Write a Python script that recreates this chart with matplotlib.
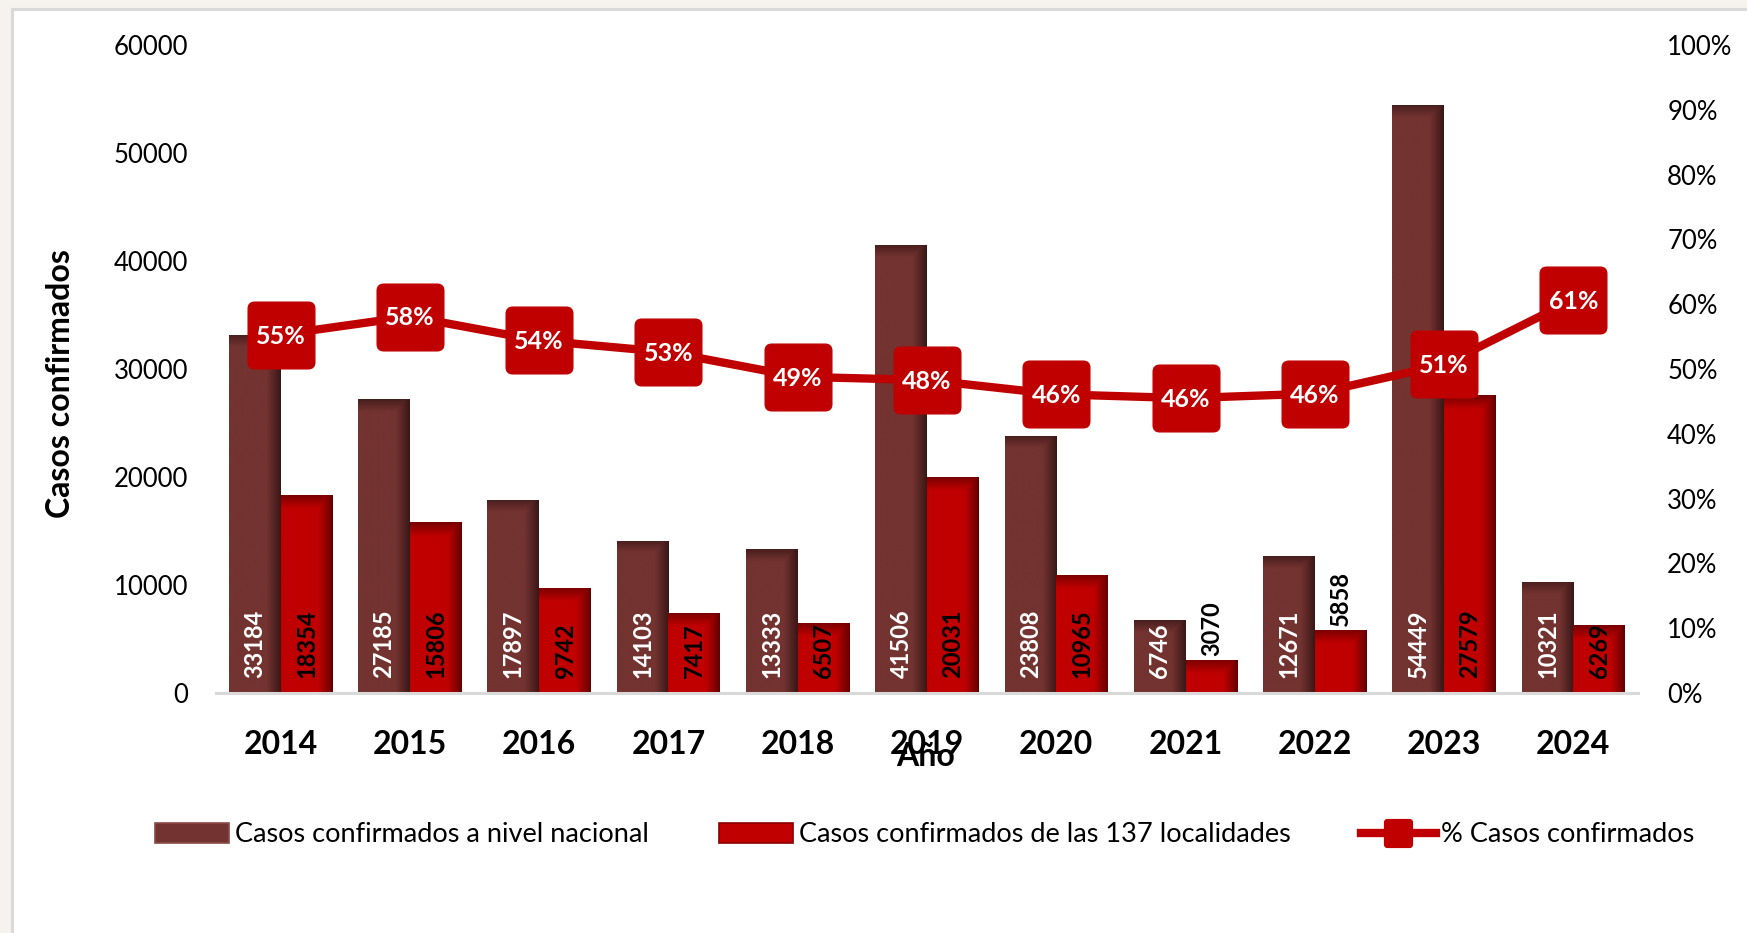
import numpy as np
import matplotlib
matplotlib.use("Agg")
import matplotlib.pyplot as plt
from matplotlib.patches import Rectangle, Patch, FancyBboxPatch
from matplotlib.lines import Line2D
from matplotlib.path import Path
from matplotlib.colors import to_rgb

# ---------------- data ----------------
years = ["2014", "2015", "2016", "2017", "2018", "2019", "2020", "2021", "2022", "2023", "2024"]
casos_nacional = [33184, 27185, 17897, 14103, 13333, 41506, 23808, 6746, 12671, 54449, 10321]
casos_137 = [18354, 15806, 9742, 7417, 6507, 20031, 10965, 3070, 5858, 27579, 6269]
pct_confirmados = [55.3, 58.1, 54.4, 52.6, 48.8, 48.3, 46.1, 45.5, 46.2, 50.7, 60.7]
pct_labels = ["55%", "58%", "54%", "53%", "49%", "48%", "46%", "46%", "46%", "51%", "61%"]
left_ticks = [0, 10000, 20000, 30000, 40000, 50000, 60000]
right_ticks = [0.0, 0.1, 0.2, 0.3, 0.4, 0.5, 0.6, 0.7, 0.8, 0.9, 1.0]
right_tick_labels = ["0%", "10%", "20%", "30%", "40%", "50%", "60%", "70%", "80%", "90%", "100%"]

plt.rcParams['font.family'] = ['Lato', 'DejaVu Sans']

W, H = 1747, 933
fig = plt.figure(figsize=(W / 100, H / 100), dpi=100)
fig.patch.set_facecolor("#F6F3EF")
frame = Rectangle((12 / W, -0.02), 1.0, 1 - 9 / H + 0.02, transform=fig.transFigure,
                  facecolor="white", edgecolor="#D9D9D9", linewidth=2.2, zorder=-10)
fig.patches.append(frame)

ax = fig.add_axes([216 / W, 1 - 693 / H, (1638 - 216) / W, (693 - 45) / H])
ax.set_facecolor("none")

x = np.arange(len(years))
w = 0.4
DARK = "#733330"
RED = "#C00000"
b1 = ax.bar(x - w / 2, casos_nacional, w, color=DARK, linewidth=0, zorder=2)
b2 = ax.bar(x + w / 2, casos_137, w, color=RED, linewidth=0, zorder=2)

ax.set_xlim(-0.5, len(years) - 0.5)
ax.set_ylim(0, 60000)
px_per_unit = (693 - 45) / 60000.0


def shade(bars, base, dark, top_px, top_strength):
    base = np.array(to_rgb(base))
    dark = np.array(to_rgb(dark))
    for b in bars:
        x0, y0 = b.get_x(), b.get_y()
        bw, bh = b.get_width(), b.get_height()
        hpx = max(bh * px_per_unit, 1)
        M, N = 60, 300
        t = np.linspace(0, 1, M)
        s = np.linspace(0, 1, N)
        hf = np.clip((t - 0.72) / 0.28, 0, 1) ** 1.1
        f = min(1.0, top_px / hpx)
        vf = np.clip((s - (1 - f)) / f, 0, 1) * top_strength
        fac = np.maximum(hf[None, :], vf[:, None])
        img = base[None, None, :] * (1 - fac[..., None]) + dark[None, None, :] * fac[..., None]
        im = ax.imshow(img, extent=[x0, x0 + bw, y0, y0 + bh], origin="lower",
                       aspect="auto", interpolation="bilinear", zorder=2.1)
        im.set_clip_path(b)


shade(b1, DARK, "#3A1717", 12, 0.75)
shade(b2, RED, "#650000", 14, 0.8)
ax.set_xlim(-0.5, len(years) - 0.5)
ax.set_ylim(0, 60000)

# data labels on bars
LBL = 17
for xi, v in zip(x, casos_nacional):
    ax.annotate(str(v), xy=(xi - w / 2, 0), xytext=(0, 11), textcoords="offset points",
                rotation=90, ha="center", va="bottom", color="white", fontsize=LBL,
                fontweight="bold", zorder=5)
for xi, v in zip(x, casos_137):
    if v < 6000:
        ax.annotate(str(v), xy=(xi + w / 2, v), xytext=(0, 3), textcoords="offset points",
                    rotation=90, ha="center", va="bottom", color="black", fontsize=LBL,
                    fontweight="bold", zorder=5)
    else:
        ax.annotate(str(v), xy=(xi + w / 2, 0), xytext=(0, 11), textcoords="offset points",
                    rotation=90, ha="center", va="bottom", color="black", fontsize=LBL,
                    fontweight="bold", zorder=5)

for sp in ["top", "left", "right"]:
    ax.spines[sp].set_visible(False)
ax.spines["bottom"].set_color("#D9D9D9")
ax.spines["bottom"].set_linewidth(2.2)
ax.set_yticks(left_ticks)
ax.set_yticklabels([str(t) for t in left_ticks])
ax.tick_params(axis="y", length=0, pad=20, labelsize=18.5)
ax.set_xticks(x)
ax.set_xticklabels(years, fontweight="bold")
ax.tick_params(axis="x", length=0, pad=27, labelsize=23)

# secondary axis with percentage line
ax2 = ax.twinx()
ax2.set_ylim(0, 1)
for sp in ax2.spines.values():
    sp.set_visible(False)
ax2.set_yticks(right_ticks)
ax2.set_yticklabels(right_tick_labels)
ax2.tick_params(axis="y", length=0, pad=21, labelsize=18.5)

rb = FancyBboxPatch((-0.5, -0.5), 1, 1, boxstyle="round,pad=0,rounding_size=0.1")
rmarker = Path(rb.get_path().vertices.copy(), rb.get_path().codes)
pct = np.array(pct_confirmados) / 100.0
ax2.plot(x, pct, color=RED, linewidth=6, marker=rmarker, markersize=48,
         markerfacecolor=RED, markeredgecolor=RED, zorder=3, solid_capstyle="round")
for xi, p, lab in zip(x, pct, pct_labels):
    ax2.annotate(lab, xy=(xi, p), xytext=(0, -1), textcoords="offset points",
                 ha="center", va="center", color="white", fontsize=18,
                 fontweight="bold", zorder=6)

# axis titles
fig.text(61 / W, 1 - 384 / H, "Casos confirmados", rotation=90, ha="center", va="center",
         fontsize=23, fontweight="bold")
fig.text(926 / W, 1 - 757 / H, "Año", ha="center", va="center", fontsize=23, fontweight="bold")

# legend
handles = [
    Patch(facecolor=DARK, edgecolor="#8A4A46", linewidth=1.2),
    Patch(facecolor=RED, edgecolor="#8A0000", linewidth=1.2),
    Line2D([0], [0], color=RED, linewidth=6, marker=rmarker, markersize=20,
           markerfacecolor=RED, markeredgecolor=RED),
]
labels = ["Casos confirmados a nivel nacional", "Casos confirmados de las 137 localidades",
          "% Casos confirmados"]
fig.legend(handles, labels, loc="center", bbox_to_anchor=(924.5 / W, 1 - 835 / H), ncol=3,
           frameon=False, fontsize=19.5, handlelength=2.75, handleheight=0.8,
           handletextpad=0.2, columnspacing=2.6)

fig.savefig("out.png", dpi=100, facecolor=fig.get_facecolor())
